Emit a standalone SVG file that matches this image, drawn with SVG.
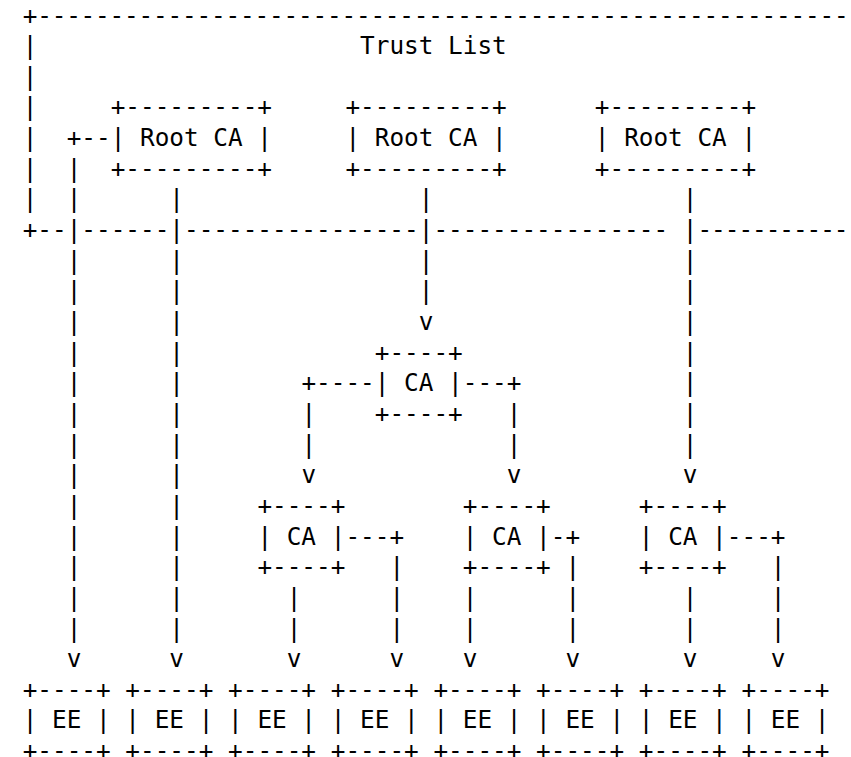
<svg xmlns="http://www.w3.org/2000/svg" xmlns:xlink="http://www.w3.org/1999/xlink" width="851" height="757" viewBox="0 0 851 757">
<style>
.t { font-family: "DejaVu Sans Mono", "Liberation Mono", monospace; font-size: 24.37px; fill: #000; white-space: pre; }
</style>
<defs>
<text id="bar" class="t">|</text>
<text id="arr" class="t">v</text>
</defs>
<rect width="851" height="757" fill="#fff"/>
<g id="trust-list">
<text class="t" x="22.67" y="23.5" textLength="826" lengthAdjust="spacing" xml:space="preserve">+--------------------------------------------------------</text>
<use href="#bar" x="22.67" y="54.15"/>
<use href="#bar" x="22.67" y="84.8"/>
<use href="#bar" x="22.67" y="115.45"/>
<use href="#bar" x="22.67" y="146.1"/>
<use href="#bar" x="22.67" y="176.75"/>
<use href="#bar" x="22.67" y="207.4"/>
<text class="t" x="360.08" y="54.15" xml:space="preserve">Trust List</text>
<text class="t" x="22.67" y="238.05" xml:space="preserve">+--</text>
<text class="t" x="81.35" y="238.05" xml:space="preserve">------</text>
<text class="t" x="184.04" y="238.05" xml:space="preserve">----------------</text>
<text class="t" x="433.43" y="238.05" xml:space="preserve">----------------</text>
<text class="t" x="697.49" y="238.05" textLength="151" lengthAdjust="spacing" xml:space="preserve">-----------</text>
</g>
<g id="root-ca-1">
<text class="t" x="110.69" y="115.45" xml:space="preserve">+---------+</text>
<text class="t" x="110.69" y="146.1" xml:space="preserve">| Root CA |</text>
<text class="t" x="110.69" y="176.75" xml:space="preserve">+---------+</text>
</g>
<g id="root-ca-2">
<text class="t" x="345.41" y="115.45" xml:space="preserve">+---------+</text>
<text class="t" x="345.41" y="146.1" xml:space="preserve">| Root CA |</text>
<text class="t" x="345.41" y="176.75" xml:space="preserve">+---------+</text>
</g>
<g id="root-ca-3">
<text class="t" x="594.8" y="115.45" xml:space="preserve">+---------+</text>
<text class="t" x="594.8" y="146.1" xml:space="preserve">| Root CA |</text>
<text class="t" x="594.8" y="176.75" xml:space="preserve">+---------+</text>
</g>
<g id="ca-mid">
<text class="t" x="374.75" y="360.65" xml:space="preserve">+----+</text>
<text class="t" x="374.75" y="391.3" xml:space="preserve">| CA |</text>
<text class="t" x="374.75" y="421.95" xml:space="preserve">+----+</text>
</g>
<g id="ca-1">
<text class="t" x="257.39" y="513.9" xml:space="preserve">+----+</text>
<text class="t" x="257.39" y="544.55" xml:space="preserve">| CA |</text>
<text class="t" x="257.39" y="575.2" xml:space="preserve">+----+</text>
</g>
<g id="ca-2">
<text class="t" x="462.77" y="513.9" xml:space="preserve">+----+</text>
<text class="t" x="462.77" y="544.55" xml:space="preserve">| CA |</text>
<text class="t" x="462.77" y="575.2" xml:space="preserve">+----+</text>
</g>
<g id="ca-3">
<text class="t" x="638.81" y="513.9" xml:space="preserve">+----+</text>
<text class="t" x="638.81" y="544.55" xml:space="preserve">| CA |</text>
<text class="t" x="638.81" y="575.2" xml:space="preserve">+----+</text>
</g>
<g id="ee-1">
<text class="t" x="22.67" y="697.8" xml:space="preserve">+----+</text>
<text class="t" x="22.67" y="728.45" xml:space="preserve">| EE |</text>
<text class="t" x="22.67" y="759.1" xml:space="preserve">+----+</text>
</g>
<g id="ee-2">
<text class="t" x="125.36" y="697.8" xml:space="preserve">+----+</text>
<text class="t" x="125.36" y="728.45" xml:space="preserve">| EE |</text>
<text class="t" x="125.36" y="759.1" xml:space="preserve">+----+</text>
</g>
<g id="ee-3">
<text class="t" x="228.05" y="697.8" xml:space="preserve">+----+</text>
<text class="t" x="228.05" y="728.45" xml:space="preserve">| EE |</text>
<text class="t" x="228.05" y="759.1" xml:space="preserve">+----+</text>
</g>
<g id="ee-4">
<text class="t" x="330.74" y="697.8" xml:space="preserve">+----+</text>
<text class="t" x="330.74" y="728.45" xml:space="preserve">| EE |</text>
<text class="t" x="330.74" y="759.1" xml:space="preserve">+----+</text>
</g>
<g id="ee-5">
<text class="t" x="433.43" y="697.8" xml:space="preserve">+----+</text>
<text class="t" x="433.43" y="728.45" xml:space="preserve">| EE |</text>
<text class="t" x="433.43" y="759.1" xml:space="preserve">+----+</text>
</g>
<g id="ee-6">
<text class="t" x="536.12" y="697.8" xml:space="preserve">+----+</text>
<text class="t" x="536.12" y="728.45" xml:space="preserve">| EE |</text>
<text class="t" x="536.12" y="759.1" xml:space="preserve">+----+</text>
</g>
<g id="ee-7">
<text class="t" x="638.81" y="697.8" xml:space="preserve">+----+</text>
<text class="t" x="638.81" y="728.45" xml:space="preserve">| EE |</text>
<text class="t" x="638.81" y="759.1" xml:space="preserve">+----+</text>
</g>
<g id="ee-8">
<text class="t" x="741.5" y="697.8" xml:space="preserve">+----+</text>
<text class="t" x="741.5" y="728.45" xml:space="preserve">| EE |</text>
<text class="t" x="741.5" y="759.1" xml:space="preserve">+----+</text>
</g>
<g id="connectors">
<text class="t" x="66.68" y="146.1" xml:space="preserve">+--</text>
<use href="#bar" x="66.68" y="176.75"/>
<use href="#bar" x="66.68" y="207.4"/>
<use href="#bar" x="66.68" y="238.05"/>
<use href="#bar" x="66.68" y="268.7"/>
<use href="#bar" x="66.68" y="299.35"/>
<use href="#bar" x="66.68" y="330"/>
<use href="#bar" x="66.68" y="360.65"/>
<use href="#bar" x="66.68" y="391.3"/>
<use href="#bar" x="66.68" y="421.95"/>
<use href="#bar" x="66.68" y="452.6"/>
<use href="#bar" x="66.68" y="483.25"/>
<use href="#bar" x="66.68" y="513.9"/>
<use href="#bar" x="66.68" y="544.55"/>
<use href="#bar" x="66.68" y="575.2"/>
<use href="#bar" x="66.68" y="605.85"/>
<use href="#bar" x="66.68" y="636.5"/>
<use href="#arr" x="66.68" y="667.15"/>
<use href="#bar" x="169.37" y="207.4"/>
<use href="#bar" x="169.37" y="238.05"/>
<use href="#bar" x="169.37" y="268.7"/>
<use href="#bar" x="169.37" y="299.35"/>
<use href="#bar" x="169.37" y="330"/>
<use href="#bar" x="169.37" y="360.65"/>
<use href="#bar" x="169.37" y="391.3"/>
<use href="#bar" x="169.37" y="421.95"/>
<use href="#bar" x="169.37" y="452.6"/>
<use href="#bar" x="169.37" y="483.25"/>
<use href="#bar" x="169.37" y="513.9"/>
<use href="#bar" x="169.37" y="544.55"/>
<use href="#bar" x="169.37" y="575.2"/>
<use href="#bar" x="169.37" y="605.85"/>
<use href="#bar" x="169.37" y="636.5"/>
<use href="#arr" x="169.37" y="667.15"/>
<use href="#bar" x="418.76" y="207.4"/>
<use href="#bar" x="418.76" y="238.05"/>
<use href="#bar" x="418.76" y="268.7"/>
<use href="#bar" x="418.76" y="299.35"/>
<use href="#arr" x="418.76" y="330"/>
<use href="#bar" x="682.82" y="207.4"/>
<use href="#bar" x="682.82" y="238.05"/>
<use href="#bar" x="682.82" y="268.7"/>
<use href="#bar" x="682.82" y="299.35"/>
<use href="#bar" x="682.82" y="330"/>
<use href="#bar" x="682.82" y="360.65"/>
<use href="#bar" x="682.82" y="391.3"/>
<use href="#bar" x="682.82" y="421.95"/>
<use href="#bar" x="682.82" y="452.6"/>
<use href="#arr" x="682.82" y="483.25"/>
<text class="t" x="301.4" y="391.3" xml:space="preserve">+----</text>
<text class="t" x="462.77" y="391.3" xml:space="preserve">---+</text>
<use href="#bar" x="301.4" y="421.95"/>
<use href="#bar" x="301.4" y="452.6"/>
<use href="#arr" x="301.4" y="483.25"/>
<use href="#bar" x="506.78" y="421.95"/>
<use href="#bar" x="506.78" y="452.6"/>
<use href="#arr" x="506.78" y="483.25"/>
<text class="t" x="345.41" y="544.55" xml:space="preserve">---+</text>
<use href="#bar" x="389.42" y="575.2"/>
<use href="#bar" x="389.42" y="605.85"/>
<use href="#bar" x="389.42" y="636.5"/>
<use href="#arr" x="389.42" y="667.15"/>
<use href="#bar" x="286.73" y="605.85"/>
<use href="#bar" x="286.73" y="636.5"/>
<use href="#arr" x="286.73" y="667.15"/>
<text class="t" x="550.79" y="544.55" xml:space="preserve">-+</text>
<use href="#bar" x="565.46" y="575.2"/>
<use href="#bar" x="565.46" y="605.85"/>
<use href="#bar" x="565.46" y="636.5"/>
<use href="#arr" x="565.46" y="667.15"/>
<use href="#bar" x="462.77" y="605.85"/>
<use href="#bar" x="462.77" y="636.5"/>
<use href="#arr" x="462.77" y="667.15"/>
<text class="t" x="726.83" y="544.55" xml:space="preserve">---+</text>
<use href="#bar" x="770.84" y="575.2"/>
<use href="#bar" x="770.84" y="605.85"/>
<use href="#bar" x="770.84" y="636.5"/>
<use href="#arr" x="770.84" y="667.15"/>
<use href="#bar" x="682.82" y="605.85"/>
<use href="#bar" x="682.82" y="636.5"/>
<use href="#arr" x="682.82" y="667.15"/>
</g>
</svg>
